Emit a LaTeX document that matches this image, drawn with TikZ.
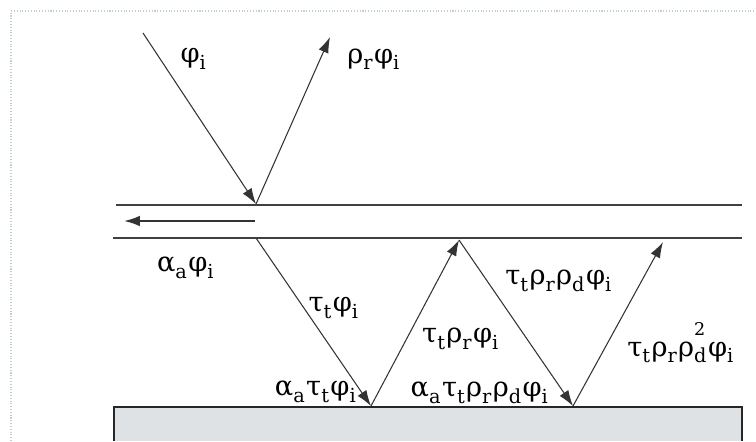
\documentclass[tikz,border=0pt]{standalone}
\usepackage{fontspec}
\setmainfont{DejaVu Serif}
\usetikzlibrary{arrows.meta}
\definecolor{framegray}{RGB}{190,208,214}
\definecolor{subfill}{RGB}{222,226,228}
\newcommand\lo[1]{\raisebox{-0.45ex}{\fontsize{11}{13}\selectfont #1}\kern0.8pt}
\newcommand\hi[1]{\makebox[0pt][l]{\raisebox{1.45ex}{\fontsize{10}{12}\selectfont #1}}}
\tikzset{
  ray/.style={-{Latex[length=9pt,width=6pt]}, line width=0.6pt, black!80},
  film/.style={line width=1.3pt, black!75},
  lbl/.style={font=\fontsize{15.5}{18}\selectfont, inner sep=1pt},
}
\begin{document}
\begin{tikzpicture}[x=0.02cm,y=-0.02cm]
    \useasboundingbox (0,0) rectangle (756,441);
    % frame
    \draw[framegray, densely dotted, line width=0.6pt] (11,441) -- (11,11) -- (756,11);
    % substrate
    \fill[subfill] (114,407) rectangle (742,441);
    \draw[line width=1.3pt, black!85] (114,441) -- (114,407) -- (742,407) -- (742,441);
    % film
    \draw[film] (116,205) -- (742,205);
    \draw[film] (113,238) -- (742,238);
    % points
    \coordinate (src) at (143,33);
    \coordinate (p0) at (256,204);
    \coordinate (out) at (330,37);
    \coordinate (h0) at (255,221);
    \coordinate (h1) at (124,221);
    \coordinate (q0) at (256,238);
    \coordinate (b1) at (371,406);
    \coordinate (t1) at (459,240);
    \coordinate (b2) at (573,406);
    \coordinate (t2) at (663,242);
    % rays
    \draw[ray] (src) -- (p0);
    \draw[ray] (p0) -- (out);
    \draw[ray, line width=1.1pt] (h0) -- (h1);
    \draw[ray] (q0) -- (b1);
    \draw[ray] (b1) -- (t1);
    \draw[ray] (t1) -- (b2);
    \draw[ray] (b2) -- (t2);
    % labels
    \node[lbl] (inc) at (194,59) {φ\lo{i}};
    \node[lbl] (refl) at (374,59) {ρ\lo{r}φ\lo{i}};
    \node[lbl] (abs0) at (186,268) {α\lo{a}φ\lo{i}};
    \node[lbl] (tr1) at (334,308) {τ\lo{t}φ\lo{i}};
    \node[lbl] (tr2) at (461,339) {τ\lo{t}ρ\lo{r}φ\lo{i}};
    \node[lbl] (tr3) at (559,281) {τ\lo{t}ρ\lo{r}ρ\lo{d}φ\lo{i}};
    \node[lbl] (tr4) at (681,343) {τ\lo{t}ρ\lo{r}ρ\hi{2}\lo{d}φ\lo{i}};
    \node[lbl] (abs1) at (316,392) {α\lo{a} τ\lo{t} φ\lo{i}};
    \node[lbl] (abs2) at (480,393) {α\lo{a} τ\lo{t}ρ\lo{r}ρ\lo{d}φ\lo{i}};
\end{tikzpicture}
\end{document}
